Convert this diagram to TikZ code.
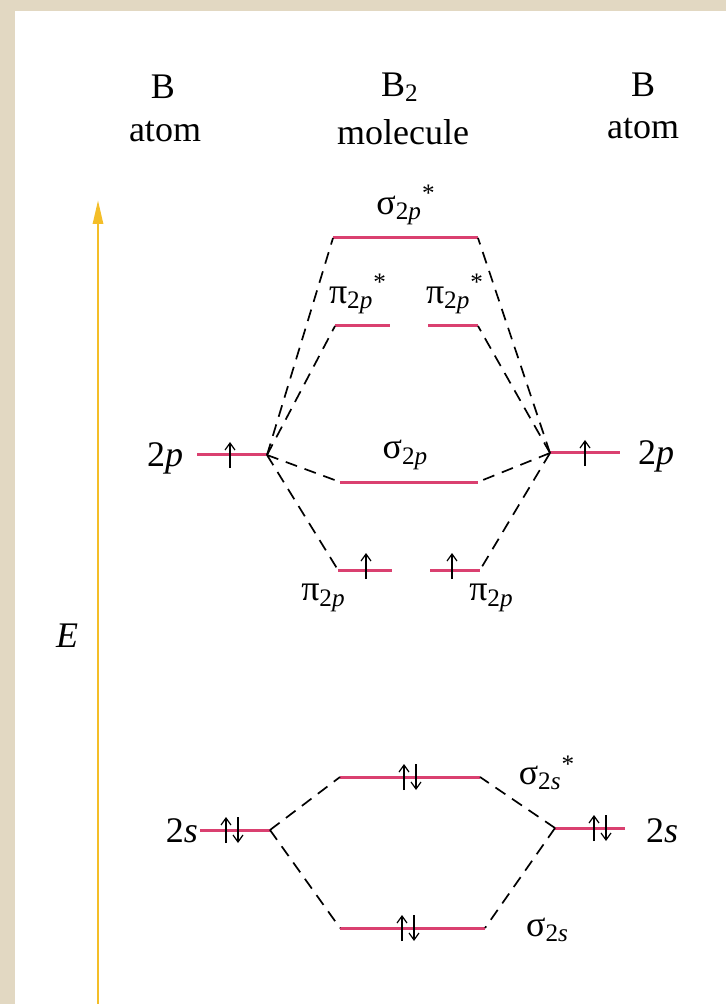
\documentclass[tikz,border=0pt]{standalone}
\usepackage{fontspec}
\setmainfont{Liberation Serif}
\usetikzlibrary{arrows.meta}
\definecolor{levelpink}{RGB}{218,64,112}
\definecolor{paper}{RGB}{226,216,194}
\definecolor{axisgold}{RGB}{244,190,40}
\newcommand{\orb}[3]{#1\textsubscript{#2}\textsuperscript{#3}}
\tikzset{
  level/.style={levelpink, line width=1.5pt},
  link/.style={dash pattern=on 6pt off 4pt, line width=0.85pt},
  spin/.style={line width=0.6pt, -{Straight Barb[length=3.5pt,width=5pt]}},
  lab/.style={font=\fontsize{18}{20}\selectfont, inner sep=0pt},
  pics/upspin/.style={code={\draw[spin] (0,13) -- (0,-13);}},
  pics/pairspin/.style={code={
    \draw[spin] (-6,13) -- (-6,-13);
    \draw[spin] (6,-13) -- (6,13);}}
}
\begin{document}
\begin{tikzpicture}[x=0.5pt,y=-0.5pt]
                \useasboundingbox (0,0) rectangle (726,1004);
                \fill[paper] (0,0) rectangle (726,1004);
                \fill[white] (15,11) rectangle (726,1004);
                % headings
                \node[lab] (leftB) at (163,87) {B};
                \node[lab] (leftatom) at (165,132) {atom};
                \node[lab] (molB) at (400,87) {B\textsubscript{2}};
                \node[lab] (molname) at (403,132) {molecule};
                \node[lab] (rightB) at (643,85) {B};
                \node[lab] (rightatom) at (643,129) {atom};
                % energy axis
                \coordinate (Ebot) at (98,1004);
                \coordinate (Etop) at (98,200);
                \draw[axisgold, line width=1.4pt, -{Triangle[length=12pt,width=5pt]}] (Ebot) -- (Etop);
                \node[lab] (Elab) at (67,636) {\textit{E}};
                % atomic levels
                \coordinate (pLa) at (197,455);
                \coordinate (pLb) at (267,455);
                \coordinate (pRa) at (550,453);
                \coordinate (pRb) at (620,453);
                \coordinate (sLa) at (200,830);
                \coordinate (sLb) at (270,830);
                \coordinate (sRa) at (555,828);
                \coordinate (sRb) at (625,828);
                % molecular levels
                \coordinate (SpSa) at (333,238);
                \coordinate (SpSb) at (478,238);
                \coordinate (PpSa) at (335,326);
                \coordinate (PpSb) at (390,326);
                \coordinate (PpSc) at (428,326);
                \coordinate (PpSd) at (478,326);
                \coordinate (Spa) at (340,482);
                \coordinate (Spb) at (478,482);
                \coordinate (Ppa) at (338,570);
                \coordinate (Ppb) at (392,570);
                \coordinate (Ppc) at (430,570);
                \coordinate (Ppd) at (480,570);
                \coordinate (SsSa) at (340,777);
                \coordinate (SsSb) at (480,777);
                \coordinate (Ssa) at (340,928);
                \coordinate (Ssb) at (485,928);
                \foreach \a/\b in {pLa/pLb,pRa/pRb,sLa/sLb,sRa/sRb,SpSa/SpSb,PpSa/PpSb,PpSc/PpSd,Spa/Spb,Ppa/Ppb,Ppc/Ppd,SsSa/SsSb,Ssa/Ssb}
                  \draw[level] (\a) -- (\b);
                % correlation lines
                \foreach \m in {SpSa,PpSa,Spa,Ppa}
                  \draw[link] (pLb) -- (\m);
                \foreach \m in {SpSb,PpSd,Spb,Ppd}
                  \draw[link] (pRa) -- (\m);
                \foreach \m in {SsSa,Ssa}
                  \draw[link] (sLb) -- (\m);
                \foreach \m in {SsSb,Ssb}
                  \draw[link] (sRa) -- (\m);
                % electrons
                \pic at (230,455) {upspin};
                \pic at (585,453) {upspin};
                \pic at (366,566) {upspin};
                \pic at (452,566) {upspin};
                \pic at (232,830) {pairspin};
                \pic at (600,828) {pairspin};
                \pic at (410,777) {pairspin};
                \pic at (408,928) {pairspin};
                % labels
                \node[lab] (lab2pL) at (165,458) {2\textit{p}};
                \node[lab] (lab2pR) at (656,456) {2\textit{p}};
                \node[lab] (lab2sL) at (182,831) {2\textit{s}};
                \node[lab] (lab2sR) at (662,831) {2\textit{s}};
                \node[lab] (labSpS) at (406,205) {\orb{σ}{2\textit{p}}{*}};
                \node[lab] (labPpSa) at (358,294) {\orb{π}{2\textit{p}}{*}};
                \node[lab] (labPpSb) at (455,294) {\orb{π}{2\textit{p}}{*}};
                \node[lab] (labSp) at (406,455) {\orb{σ}{2\textit{p}}{}};
                \node[lab] (labPpa) at (324,598) {\orb{π}{2\textit{p}}{}};
                \node[lab] (labPpb) at (492,598) {\orb{π}{2\textit{p}}{}};
                \node[lab] (labSsS) at (547,773) {\orb{σ}{2\textit{s}}{*}};
                \node[lab] (labSs) at (548,930) {\orb{σ}{2\textit{s}}{}};
            \end{tikzpicture}
\end{document}
